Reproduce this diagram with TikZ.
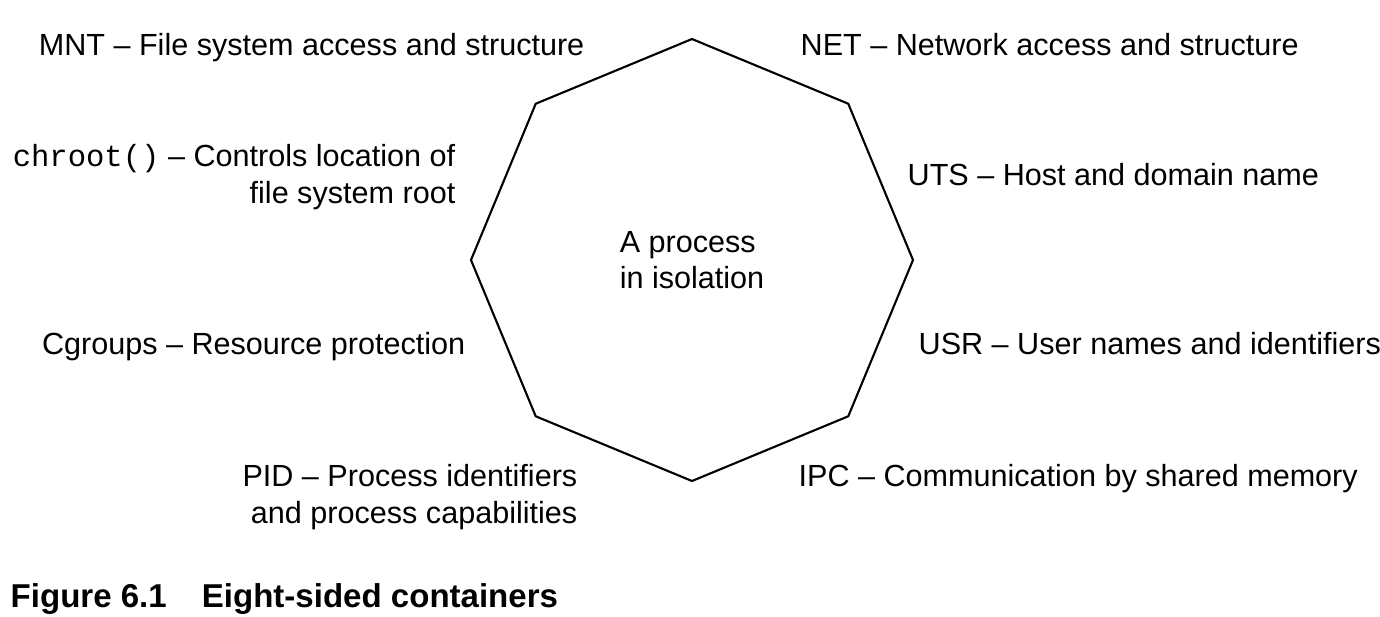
\documentclass[tikz,border=0pt]{standalone}
\usepackage{fontspec}
\setmainfont{Liberation Sans}
\newfontfamily\codefont{Liberation Mono}
\usetikzlibrary{shapes.geometric}

\begin{document}
\begin{tikzpicture}[x=0.1mm,y=-0.1mm,
    lbl/.style={inner sep=0pt,font=\fontsize{8.7pt}{10.25pt}\selectfont},
    lft/.style={lbl,anchor=base east,align=right},
    rgt/.style={lbl,anchor=base west,align=left},
    oct/.style={regular polygon,regular polygon sides=8,shape border rotate=22.5,
        draw,line width=0.6pt,minimum size=44.2mm,align=left,
        font=\fontsize{8.7pt}{10.25pt}\selectfont}]
    \useasboundingbox (0,0) rectangle (1380,616);
    %
    \node[oct] (proc) at (692,260) {A process\\in isolation};
    %
    \node[lft] (mnt) at (585,55) {MNT -- File system access and structure};
    \node[lft] (chroot) at (456,203) {{\codefont chroot()} -- Controls location of\\file system root};
    \node[lft] (cgroups) at (466,354) {Cgroups -- Resource protection};
    \node[lft] (pid) at (578,523) {PID -- Process identifiers\\and process capabilities};

    \node[rgt] (net) at (800,55) {NET -- Network access and structure};
    \node[rgt] (uts) at (907,185) {UTS -- Host and domain name};
    \node[rgt] (usr) at (918,354) {USR -- User names and identifiers};
    \node[rgt] (ipc) at (798,486) {IPC -- Communication by shared memory};
    %
    \node[anchor=base west,inner sep=0pt,font=\bfseries\fontsize{9.4pt}{11pt}\selectfont]
        (caption) at (10,607) {Figure 6.1\hspace{10pt}Eight-sided containers};
    %
\end{tikzpicture}
\end{document}
